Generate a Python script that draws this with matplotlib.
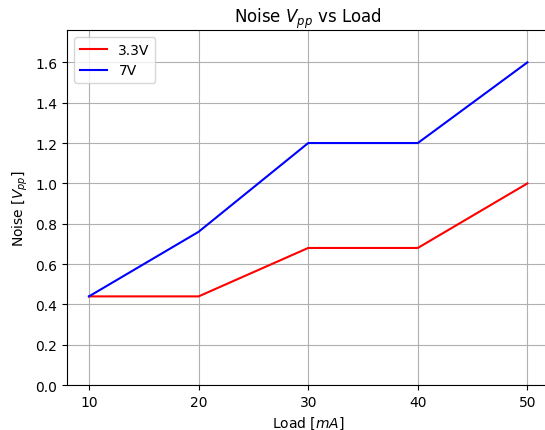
import matplotlib
matplotlib.use("Agg")
import matplotlib.pyplot as plt

# load current in mA
load = [10, 20, 30, 40, 50]
# noise Vpp per supply voltage
noise_33v = [0.44, 0.44, 0.68, 0.68, 1.0]
noise_7v = [0.44, 0.76, 1.2, 1.2, 1.6]

fig = plt.figure(figsize=(5.45, 4.31), dpi=100)
ax = fig.add_axes([0.123, 0.104, 0.885, 0.824])

ax.plot(load, noise_33v, color="red", label="3.3V")
ax.plot(load, noise_7v, color="blue", label="7V")

ax.set_title("Noise $V_{pp}$ vs Load")
ax.set_xlabel("Load [$mA$]")
ax.set_ylabel("Noise [$V_{pp}$]")
ax.set_xticks(load)
ax.set_ylim(0, 1.76)
ax.grid(True)
ax.legend(loc="upper left")

fig.savefig("out.png", dpi=100)
